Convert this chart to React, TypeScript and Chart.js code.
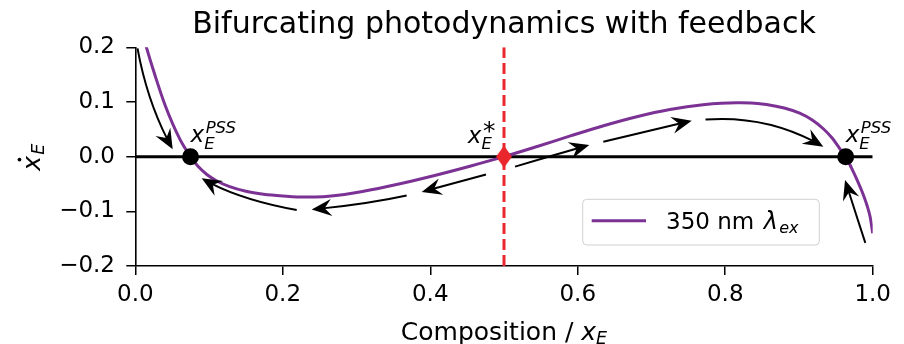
import React, { useEffect, useRef } from 'react';
import { Chart, registerables } from 'chart.js';

Chart.register(...registerables);

const FONT = '"DejaVu Sans", "Liberation Sans", sans-serif';

// ---- text ----
const titleText = 'Bifurcating photodynamics with feedback';
const xAxisText = 'Composition / ';
const legendText = '350 nm';

// ---- data: dx_E/dt vs x_E (350 nm excitation) ----
const curveX = [0.008, 0.0155, 0.0267, 0.0403, 0.0606, 0.0749, 0.085, 0.097, 0.11, 0.128, 0.15, 0.174, 0.2, 0.23, 0.255, 0.275, 0.32, 0.365, 0.41, 0.455, 0.5, 0.545, 0.59, 0.635, 0.68, 0.725, 0.77, 0.815, 0.835, 0.856, 0.88, 0.901, 0.918, 0.933, 0.945, 0.956, 0.9634, 0.971, 0.978, 0.985, 0.992, 0.9965, 1.0];
const curveY = [0.235, 0.198, 0.1488, 0.0944, 0.0315, 0, -0.0177, -0.0327, -0.0441, -0.0549, -0.0633, -0.0686, -0.0718, -0.074, -0.0732, -0.0708, -0.0605, -0.0476, -0.033, -0.017, 0, 0.0186, 0.0379, 0.0566, 0.0731, 0.0862, 0.0948, 0.0984, 0.0983, 0.0955, 0.089, 0.0795, 0.067, 0.051, 0.034, 0.0135, 0, -0.02, -0.04, -0.062, -0.088, -0.11, -0.14];

const zeroLineX = [0, 1];
const zeroLineY = [0, 0];
const separatrixX = [0.5, 0.5];
const separatrixY = [-0.2, 0.2];
const stableX = [0.0749, 0.9634];
const stableY = [0, 0];
const unstableX = [0.5];
const unstableY = [0];

const xTicks = [0, 0.2, 0.4, 0.6, 0.8, 1.0];
const yTicks = [-0.2, -0.1, 0, 0.1, 0.2];

// flow arrows (data coords): tail, bend control, tip
const arrowTailX = [0.003, 0.2189, 0.368, 0.4756, 0.515, 0.6347, 0.7733, 0.99];
const arrowTailY = [0.198, -0.0974, -0.0709, -0.0325, -0.0183, 0.0274, 0.0678, -0.1578];
const arrowCtrlX = [0.0171, 0.1385, 0.3148, 0.432, 0.5651, 0.6946, 0.8594, 0.976];
const arrowCtrlY = [0.0941, -0.0778, -0.0865, -0.0484, 0.0022, 0.0466, 0.0765, -0.1002];
const arrowTipX = [0.0507, 0.09, 0.2392, 0.3884, 0.6157, 0.7546, 0.933, 0.9625];
const arrowTipY = [0.0135, -0.0395, -0.0967, -0.0645, 0.0214, 0.0658, 0.0183, -0.0426];

// annotation anchors (data coords)
const pssLabelX = [0.0749, 0.9634];
const pssLabelY = [0.027, 0.027];
const starLabelX = [0.451];
const starLabelY = [0.0245];

const PURPLE = '#7b3294';
const RED = '#e8262b';

function pts(xs: number[], ys: number[]) {
  return xs.map((x, i) => ({ x, y: ys[i] }));
}

function drawArrow(ctx: CanvasRenderingContext2D, p0: any, c: any, p2: any) {
  const L = 20, W = 8.5, N = 13;
  const B = (t: number) => ({
    x: (1 - t) * (1 - t) * p0.x + 2 * (1 - t) * t * c.x + t * t * p2.x,
    y: (1 - t) * (1 - t) * p0.y + 2 * (1 - t) * t * c.y + t * t * p2.y,
  });
  let t = 1;
  while (t > 0) {
    const b = B(t);
    if (Math.hypot(b.x - p2.x, b.y - p2.y) >= N - 2) break;
    t -= 0.002;
  }
  const c1 = { x: p0.x + (c.x - p0.x) * t, y: p0.y + (c.y - p0.y) * t };
  const e = B(t);
  ctx.beginPath();
  ctx.moveTo(p0.x, p0.y);
  ctx.quadraticCurveTo(c1.x, c1.y, e.x, e.y);
  ctx.lineWidth = 2;
  ctx.strokeStyle = '#000';
  ctx.lineCap = 'butt';
  ctx.stroke();
  const ang = Math.atan2(p2.y - c.y, p2.x - c.x);
  ctx.save();
  ctx.translate(p2.x, p2.y);
  ctx.rotate(ang);
  ctx.beginPath();
  ctx.moveTo(0, 0);
  ctx.lineTo(-L, -W);
  ctx.lineTo(-N, 0);
  ctx.lineTo(-L, W);
  ctx.closePath();
  ctx.fillStyle = '#000';
  ctx.fill();
  ctx.restore();
}

function drawCentered(ctx: CanvasRenderingContext2D, text: string, targetH: number, cx: number, cy: number) {
  ctx.font = `100px ${FONT}`;
  const m0 = ctx.measureText(text);
  const h0 = m0.actualBoundingBoxAscent + m0.actualBoundingBoxDescent;
  const size = (100 * targetH) / h0;
  ctx.font = `${size}px ${FONT}`;
  const m = ctx.measureText(text);
  const x = cx - (m.actualBoundingBoxRight - m.actualBoundingBoxLeft) / 2;
  const y = cy - (m.actualBoundingBoxDescent - m.actualBoundingBoxAscent) / 2;
  ctx.textAlign = 'left';
  ctx.textBaseline = 'alphabetic';
  ctx.fillText(text, x, y);
}

const overlay = {
  id: 'overlay',
  afterDatasetsDraw(chart: any) {
    const { ctx, chartArea } = chart;
    const xs = chart.scales.x;
    const ys = chart.scales.y;
    const P = (x: number, y: number) => ({ x: xs.getPixelForValue(x), y: ys.getPixelForValue(y) });
    ctx.save();

    for (let i = 0; i < arrowTailX.length; i++) {
      drawArrow(ctx, P(arrowTailX[i], arrowTailY[i]), P(arrowCtrlX[i], arrowCtrlY[i]), P(arrowTipX[i], arrowTipY[i]));
    }

    ctx.fillStyle = '#000';
    ctx.textAlign = 'left';
    ctx.textBaseline = 'alphabetic';

    for (let i = 0; i < pssLabelX.length; i++) {
      const p = P(pssLabelX[i], pssLabelY[i]);
      ctx.font = `italic 23px ${FONT}`;
      ctx.fillText('x', p.x, p.y);
      const w = ctx.measureText('x').width;
      ctx.font = `italic 16.5px ${FONT}`;
      ctx.fillText('E', p.x + w, p.y + 7.5);
      ctx.fillText('PSS', p.x + w + 1.5, p.y - 9);
    }
    for (let i = 0; i < starLabelX.length; i++) {
      const p = P(starLabelX[i], starLabelY[i]);
      ctx.font = `italic 23px ${FONT}`;
      ctx.fillText('x', p.x, p.y);
      const w = ctx.measureText('x').width;
      ctx.font = `italic 16.5px ${FONT}`;
      ctx.fillText('E', p.x + w, p.y + 6);
      drawCentered(ctx, '*', 11.5, p.x + w + 7.5, p.y - 16);
    }

    // title
    ctx.fillStyle = '#000';
    ctx.font = `30px ${FONT}`;
    ctx.textAlign = 'center';
    ctx.fillText(titleText, (chartArea.left + chartArea.right) / 2, 33);

    // x axis title
    ctx.textAlign = 'left';
    ctx.font = `25px ${FONT}`;
    const w1 = ctx.measureText(xAxisText).width;
    ctx.font = `italic 25px ${FONT}`;
    const w2 = ctx.measureText('x').width;
    ctx.font = `italic 17.5px ${FONT}`;
    const w3 = ctx.measureText('E').width;
    const x0 = (chartArea.left + chartArea.right) / 2 - (w1 + w2 + w3) / 2;
    const xb = 339.5;
    ctx.font = `25px ${FONT}`;
    ctx.fillText(xAxisText, x0, xb);
    ctx.font = `italic 25px ${FONT}`;
    ctx.fillText('x', x0 + w1, xb);
    ctx.font = `italic 17.5px ${FONT}`;
    ctx.fillText('E', x0 + w1 + w2, xb + 4);

    // y axis title (rotated)
    ctx.save();
    const cy = (chartArea.top + chartArea.bottom) / 2;
    ctx.translate(40, cy + 14);
    ctx.rotate(-Math.PI / 2);
    ctx.font = `italic 25px ${FONT}`;
    ctx.fillText('x', 0, 0);
    const wx = ctx.measureText('x').width;
    ctx.font = `italic 17.5px ${FONT}`;
    ctx.fillText('E', wx + 1, 4);
    ctx.beginPath();
    ctx.arc(wx * 0.75, -20.5, 1.9, 0, Math.PI * 2);
    ctx.fill();
    ctx.restore();

    // legend
    const lw = 236.6, lh = 45.7;
    const lx = chartArea.right - 53.4 - lw;
    const ly = chartArea.bottom - 21 - lh;
    ctx.beginPath();
    ctx.roundRect(lx, ly, lw, lh, 4);
    ctx.fillStyle = 'rgba(255,255,255,0.8)';
    ctx.fill();
    ctx.strokeStyle = '#d0d0d0';
    ctx.lineWidth = 1;
    ctx.stroke();
    ctx.beginPath();
    ctx.moveTo(lx + 9, ly + 21.4);
    ctx.lineTo(lx + 63.3, ly + 21.4);
    ctx.strokeStyle = PURPLE;
    ctx.lineWidth = 3;
    ctx.stroke();
    ctx.fillStyle = '#000';
    ctx.font = `23px ${FONT}`;
    ctx.fillText(legendText, lx + 83.3, ly + 29.5);
    ctx.font = `italic 24px ${FONT}`;
    ctx.fillText('λ', lx + 181, ly + 29.5);
    ctx.font = `italic 16px ${FONT}`;
    ctx.fillText('ex', lx + 196.5, ly + 33.5);

    ctx.restore();
  },
};

export default function App() {
  const ref = useRef<HTMLCanvasElement | null>(null);
  useEffect(() => {
    const canvas = ref.current!;
    const diamond = document.createElement('canvas');
    diamond.width = 16;
    diamond.height = 22;
    const dctx = diamond.getContext('2d')!;
    dctx.beginPath();
    dctx.moveTo(8, 0);
    dctx.lineTo(16, 11);
    dctx.lineTo(8, 22);
    dctx.lineTo(0, 11);
    dctx.closePath();
    dctx.fillStyle = RED;
    dctx.fill();

    const tickFont = { family: FONT, size: 23 };
    const chart = new Chart(canvas, {
      type: 'scatter',
      data: {
        datasets: [
          {
            label: 'stable PSS',
            data: pts(stableX, stableY),
            pointRadius: 8.5,
            pointBackgroundColor: '#000',
            pointBorderColor: '#000',
            pointBorderWidth: 0,
            showLine: false,
            order: 0,
          } as any,
          {
            label: 'unstable',
            data: pts(unstableX, unstableY),
            pointStyle: diamond,
            pointRadius: 10,
            showLine: false,
            order: 0,
          } as any,
          {
            label: 'separatrix',
            data: pts(separatrixX, separatrixY),
            showLine: true,
            borderColor: RED,
            borderWidth: 3,
            borderDash: [11, 5],
            pointRadius: 0,
            order: 1,
          } as any,
          {
            label: '350 nm λex',
            data: pts(curveX, curveY),
            showLine: true,
            borderColor: PURPLE,
            borderWidth: 3,
            pointRadius: 0,
            cubicInterpolationMode: 'monotone',
            order: 2,
          } as any,
          {
            label: 'zero',
            data: pts(zeroLineX, zeroLineY),
            showLine: true,
            borderColor: '#000',
            borderWidth: 3,
            pointRadius: 0,
            order: 3,
          } as any,
        ],
      },
      options: {
        responsive: false,
        animation: false,
        events: [],
        layout: { padding: { left: 0, top: 47.3, right: 31.3, bottom: 0 } },
        plugins: {
          legend: { display: false },
          title: { display: false },
          tooltip: { enabled: false },
        },
        scales: {
          x: {
            type: 'linear',
            min: 0,
            max: 1,
            afterFit: (s: any) => { s.height = 78; },
            afterBuildTicks: (s: any) => { s.ticks = xTicks.map((v) => ({ value: v })); },
            ticks: {
              callback: (v: any) => Number(v).toFixed(1),
              font: tickFont,
              color: '#000',
              padding: 6,
              maxRotation: 0,
              autoSkip: false,
            },
            grid: { display: true, drawOnChartArea: false, drawTicks: true, tickLength: 9, color: '#000', lineWidth: 1.5 },
            border: { display: true, color: '#000', width: 1.6 },
          },
          y: {
            type: 'linear',
            min: -0.2,
            max: 0.2,
            afterFit: (s: any) => { s.width = 135.3; },
            afterBuildTicks: (s: any) => { s.ticks = yTicks.map((v) => ({ value: v })); },
            ticks: {
              callback: (v: any) => Number(v).toFixed(1).replace('-', '\u2212'),
              font: tickFont,
              color: '#000',
              padding: 11.3,
              autoSkip: false,
            },
            grid: { display: true, drawOnChartArea: false, drawTicks: true, tickLength: 9, color: '#000', lineWidth: 1.5 },
            border: { display: true, color: '#000', width: 1.6 },
          },
        },
      } as any,
      plugins: [overlay],
    });
    return () => chart.destroy();
  }, []);
  return (
    <div style={{ position: 'absolute', left: 0, top: 0, width: 904, height: 344, background: '#fff' }}>
      <canvas ref={ref} width={904} height={344} style={{ width: 904, height: 344, display: 'block' }} />
    </div>
  );
}
